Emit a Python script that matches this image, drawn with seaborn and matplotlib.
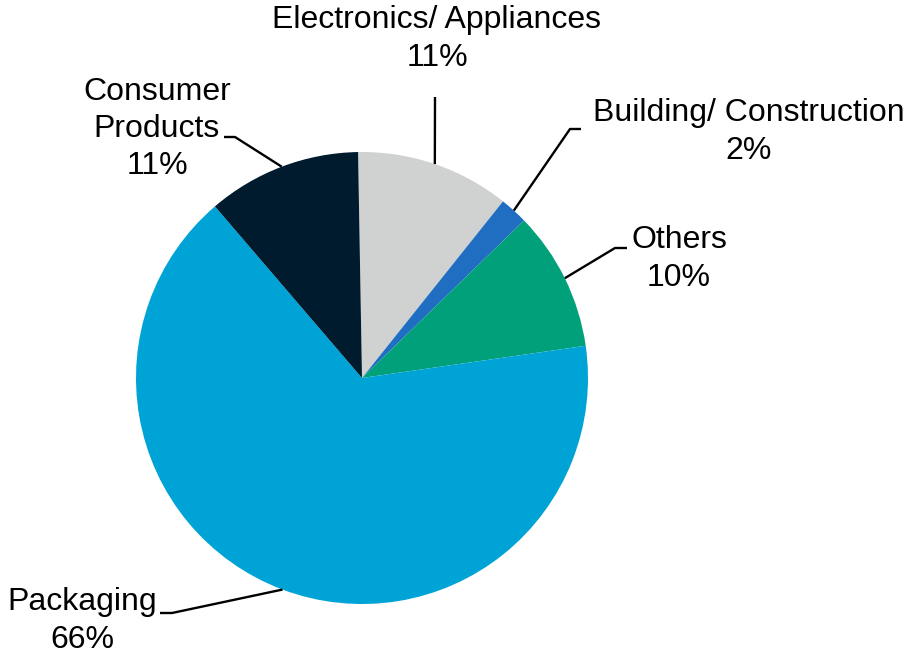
import numpy as np
import matplotlib
matplotlib.use("Agg")
import matplotlib.pyplot as plt
import seaborn as sns

# End-use shares (percent), clockwise from the top
categories = ["Electronics/ Appliances", "Building/ Construction", "Others",
              "Packaging", "Consumer\nProducts"]
shares = [11, 2, 10, 66, 11]
colors = ["#D0D1D1", "#1F6EC1", "#00A17A", "#00A3D6", "#001A2E"]

sns.set_theme(style="white")
plt.rcParams["font.family"] = ["Liberation Sans", "DejaVu Sans"]

W, H = 906, 654
fig = plt.figure(figsize=(W / 100, H / 100), dpi=100)
ax = fig.add_axes([0, 0, 1, 1])


def up(y):
    """Convert a top-down pixel row into the axes' upward y coordinate."""
    return H - y


cx, cy, r = 362, up(378), 226
wedges, _ = ax.pie(shares, colors=colors, startangle=91, counterclock=False,
                   center=(cx, cy), radius=r, frame=True,
                   wedgeprops=dict(linewidth=0))
ax.set_xlim(0, W)
ax.set_ylim(0, H)
ax.set_aspect("equal")
ax.axis("off")

# label block centres and leader-line elbows (pixel space, y measured from top)
text_pos = [(437, 39), (749, 132), (679, 259), (82, 621), (157, 129)]
elbows = [
    [(435, 97)],
    [(570, 129), (581, 129)],
    [(615, 248), (627, 248)],
    [(172, 613), (160, 613)],
    [(235, 137), (224, 137)],
]

for w, cat, val, tp, elb in zip(wedges, categories, shares, text_pos, elbows):
    mid = np.deg2rad((w.theta1 + w.theta2) / 2)
    x0 = cx + r * np.cos(mid)
    y0 = cy + r * np.sin(mid)
    xs = [x0] + [p[0] for p in elb]
    ys = [y0] + [up(p[1]) for p in elb]
    ax.plot(xs, ys, color="black", lw=1.7, solid_capstyle="butt")
    ax.text(tp[0], up(tp[1]), f"{cat}\n{val}%", ha="center", va="center",
            multialignment="center", fontsize=23, linespacing=1.31, color="black")

fig.savefig("out.png", dpi=100)
